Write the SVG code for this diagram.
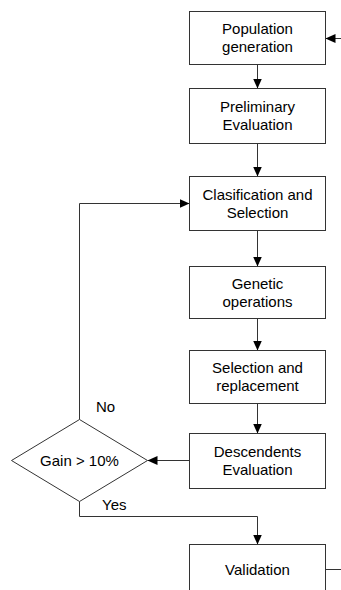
<svg xmlns="http://www.w3.org/2000/svg" width="341" height="590" viewBox="0 0 341 590">
<style>
.box{fill:#fff;stroke:#333;stroke-width:1}
.ln{fill:none;stroke:#333;stroke-width:1}
text{font-family:"Liberation Sans",Arial,sans-serif;font-size:15px;fill:#000}
.c{text-anchor:middle}
</style>
<defs>
<marker id="ah" markerUnits="userSpaceOnUse" markerWidth="10" markerHeight="9" refX="10" refY="4.5" orient="auto">
<path d="M0,0 L10,4.5 L0,9 z" fill="#000"/>
</marker>
</defs>
<rect width="341" height="590" fill="#fff"/>
<g id="connectors">
<path class="ln" d="M257.5,64.5 V88.5" marker-end="url(#ah)"/>
<path class="ln" d="M257.5,143.5 V176.5" marker-end="url(#ah)"/>
<path class="ln" d="M257.5,230.5 V266.5" marker-end="url(#ah)"/>
<path class="ln" d="M257.5,318.5 V350.5" marker-end="url(#ah)"/>
<path class="ln" d="M257.5,403.5 V433.5" marker-end="url(#ah)"/>
<path class="ln" d="M189.5,460.5 H147.5" marker-end="url(#ah)"/>
<path class="ln" d="M79.5,419.5 V203.5 H189.5" marker-end="url(#ah)"/>
<path class="ln" d="M79.5,501.5 V516.5 H257.5 V544.5" marker-end="url(#ah)"/>
<path class="ln" d="M325.5,569.5 H341"/>
<path class="ln" d="M341,38.5 H325.5" marker-end="url(#ah)"/>
<text x="96" y="412">No</text>
<text x="102" y="510">Yes</text>
</g>
<g id="population">
<rect class="box" x="189.5" y="11.5" width="136" height="53"/>
<text class="c" x="257.5" y="34.2">Population</text>
<text class="c" x="257.5" y="51.5">generation</text>
</g>
<g id="preliminary">
<rect class="box" x="189.5" y="88.5" width="136" height="55"/>
<text class="c" x="257.5" y="112.2">Preliminary</text>
<text class="c" x="257.5" y="129.5">Evaluation</text>
</g>
<g id="clasification">
<rect class="box" x="189.5" y="176.5" width="136" height="54"/>
<text class="c" x="257.5" y="200">Clasification and</text>
<text class="c" x="257.5" y="217.5">Selection</text>
</g>
<g id="genetic">
<rect class="box" x="189.5" y="266.5" width="136" height="52"/>
<text class="c" x="257.5" y="289.2">Genetic</text>
<text class="c" x="257.5" y="306.5">operations</text>
</g>
<g id="replacement">
<rect class="box" x="189.5" y="350.5" width="136" height="53"/>
<text class="c" x="257.5" y="373.2">Selection and</text>
<text class="c" x="257.5" y="390.5">replacement</text>
</g>
<g id="descendents">
<rect class="box" x="189.5" y="433.5" width="136" height="55"/>
<text class="c" x="257.5" y="457.2">Descendents</text>
<text class="c" x="257.5" y="474.5">Evaluation</text>
</g>
<g id="gain">
<polygon class="box" points="79.5,419.5 147.5,460.5 79.5,501.5 11.5,460.5"/>
<text class="c" x="79.5" y="465.5">Gain &gt; 10%</text>
</g>
<g id="validation">
<rect class="box" x="189.5" y="544.5" width="136" height="60"/>
<text class="c" x="257.5" y="574.5">Validation</text>
</g>
</svg>
